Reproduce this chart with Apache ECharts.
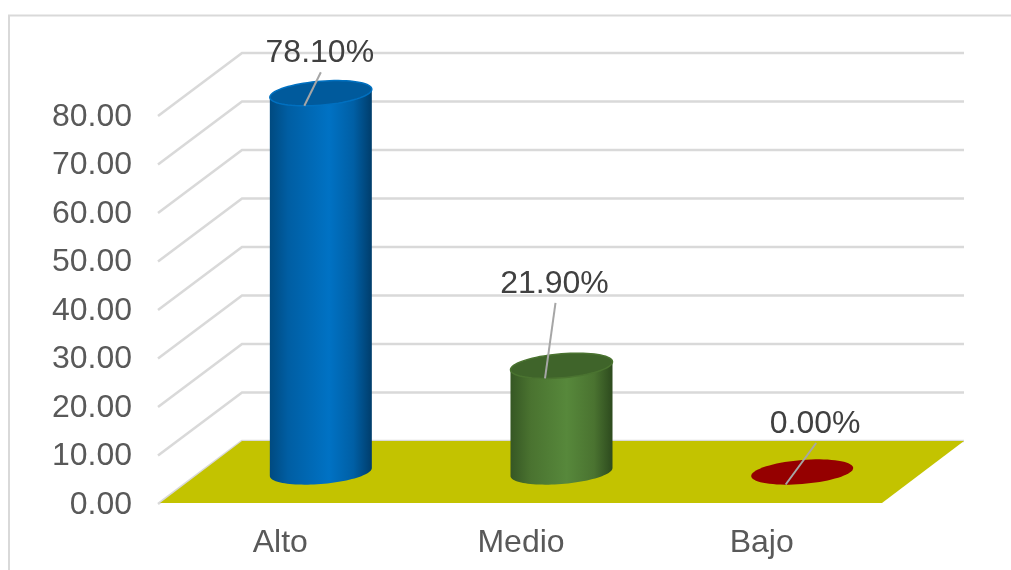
<!DOCTYPE html>
<html>
<head>
<meta charset="utf-8">
<style>html,body{margin:0;padding:0;background:#fff}#c{width:1011px;height:570px}</style>
<script src="https://cdn.jsdelivr.net/npm/echarts@6/dist/echarts.min.js"></script>
</head>
<body>
<div id="c"></div>
<script>
const categories = ['Alto', 'Medio', 'Bajo'];
const values = [78.10, 21.90, 0.00];
const valueLabels = ['78.10%', '21.90%', '0.00%'];
const yTicks = [0, 10, 20, 30, 40, 50, 60, 70, 80];

// styling only
const FONT = '"Liberation Sans", Arial, sans-serif';
const DX = 82, DY = -62;            // depth of the 3D box
const CX_SHIFT = 40.5;
const RX = 51, RY = 12, TILT = -4; // cylinder ellipse
const labelOffsets = [[-1, -40], [-7, -82], [13, -48]];
const bodyStops = [
  [{offset:0,color:'#004a80'},{offset:0.18,color:'#005ea3'},{offset:0.58,color:'#0072c4'},{offset:0.82,color:'#005fa5'},{offset:1,color:'#003d6b'}],
  [{offset:0,color:'#365724'},{offset:0.2,color:'#4a7330'},{offset:0.55,color:'#57883b'},{offset:0.82,color:'#4a7330'},{offset:1,color:'#2d4a1e'}],
  [{offset:0,color:'#950000'},{offset:1,color:'#950000'}]
];
const capFill = ['#005a9c', '#3f642a', '#950000'];
const capStroke = ['#0070c0', '#4a7330', '#950000'];

function ellipsePt(cx, cy, t) {
  const c = Math.cos(t), s = Math.sin(t);
  return [cx + RX * c, cy + RY * s + TILT * c];
}
function ellipse(cx, cy) {
  const p = [];
  for (let i = 0; i < 72; i++) p.push(ellipsePt(cx, cy, i / 72 * Math.PI * 2));
  return p;
}

const option = {
  animation: false,
  backgroundColor: '#fff',
  textStyle: {fontFamily: FONT},
  grid: {left: 160, right: 129, top: 115, bottom: 67},
  xAxis: {
    type: 'category', data: categories,
    axisLine: {show: false}, axisTick: {show: false}, splitLine: {show: false},
    axisLabel: {fontSize: 32, color: '#595959', margin: 24, fontFamily: FONT}
  },
  yAxis: {
    type: 'value', min: 0, max: 80, interval: 10,
    axisLine: {show: false}, axisTick: {show: false}, splitLine: {show: false},
    axisLabel: {fontSize: 32, color: '#595959', margin: 28, fontFamily: FONT,
      verticalAlign: 'top', lineHeight: 4, formatter: v => v.toFixed(2)}
  },
  graphic: [
    {type: 'polyline', silent: true, z: -1,
     shape: {points: [[9, 570], [9, 15.5], [1011, 15.5]]},
     style: {fill: 'none', stroke: '#d9d9d9', lineWidth: 2}}
  ],
  series: [
    {
      type: 'custom', silent: true, z: 1,
      data: yTicks.map(v => [0, v]),
      encode: {x: 0, y: 1},
      renderItem: (params, api) => {
        const cs = params.coordSys;
        const y = api.coord([0, api.value(1)])[1];
        return {
          type: 'polyline',
          shape: {points: [[cs.x - 2, y + 1], [cs.x + DX, y + DY], [cs.x + cs.width + DX, y + DY]]},
          style: {fill: 'none', stroke: '#d9d9d9', lineWidth: 2.5}
        };
      }
    },
    {
      type: 'custom', silent: true, z: 2,
      data: [[0, 0]],
      encode: {x: 0, y: 1},
      renderItem: (params, api) => {
        const cs = params.coordSys;
        const y = api.coord([0, api.value(1)])[1];
        return {
          type: 'polygon',
          shape: {points: [[cs.x, y], [cs.x + DX, y + DY], [cs.x + cs.width + DX, y + DY], [cs.x + cs.width, y]]},
          style: {fill: '#c3c300'}
        };
      }
    },
    {
      type: 'custom', silent: true, z: 3,
      data: values.map((v, i) => [i, v]),
      encode: {x: 0, y: 1},
      renderItem: (params, api) => {
        const i = api.value(0), v = api.value(1);
        const top = api.coord([i, v]), base = api.coord([i, 0]);
        const cx = top[0] + CX_SHIFT, cyT = top[1] + DY / 2, cyB = base[1] + DY / 2;
        const children = [];
        if (v > 0) {
          const pts = [ellipsePt(cx, cyT, Math.PI)];
          for (let k = 0; k <= 48; k++) pts.push(ellipsePt(cx, cyB, Math.PI - k / 48 * Math.PI));
          pts.push(ellipsePt(cx, cyT, 0));
          children.push({
            type: 'polygon', shape: {points: pts},
            style: {fill: {type: 'linear', x: 0, y: 0, x2: 1, y2: 0, colorStops: bodyStops[i]}}
          });
        }
        children.push({
          type: 'polygon', shape: {points: ellipse(cx, cyT)},
          style: {fill: capFill[i], stroke: capStroke[i], lineWidth: v > 0 ? 1.5 : 0}
        });
        const off = labelOffsets[i];
        const lx = cx + off[0], ly = cyT + off[1];
        children.push({
          type: 'line',
          shape: {x1: cx - 16.5, y1: cyT + 12.5, x2: lx + 1, y2: ly + 19},
          style: {stroke: '#a6a6a6', lineWidth: 2}
        });
        children.push({
          type: 'text',
          style: {text: valueLabels[i], x: lx, y: ly, align: 'center', verticalAlign: 'middle',
            font: '32px ' + FONT, fill: '#404040'}
        });
        return {type: 'group', children};
      }
    }
  ]
};
const chart = echarts.init(document.getElementById('c'), null, {renderer: 'canvas'});
chart.setOption(option);
</script>
</body>
</html>
